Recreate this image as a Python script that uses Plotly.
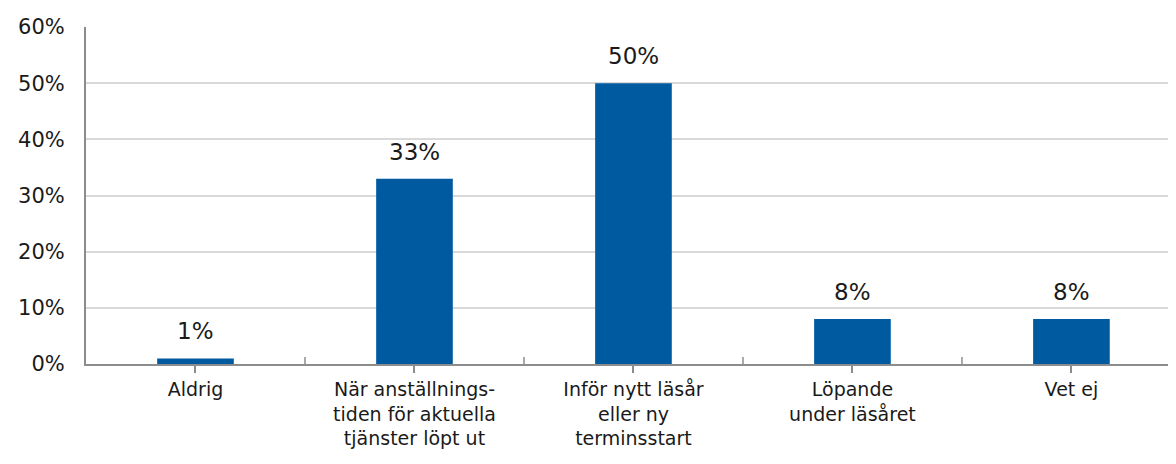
import plotly.graph_objects as go

categories = [
    "Aldrig",
    "När anställnings-<br>tiden för aktuella<br>tjänster löpt ut",
    "Inför nytt läsår<br>eller ny<br>terminsstart",
    "Löpande<br>under läsåret",
    "Vet ej",
]
values = [1, 33, 50, 8, 8]
labels = ["1%", "33%", "50%", "8%", "8%"]
y_ticks = [0, 10, 20, 30, 40, 50, 60]

x_pos = list(range(len(categories)))

fig = go.Figure()

fig.add_trace(
    go.Bar(
        x=x_pos,
        y=values,
        width=0.35,
        marker=dict(color="#005aa0", line=dict(width=0)),
        hoverinfo="skip",
    )
)

# dataetiketter ovanför staplarna
for x, v, lab in zip(x_pos, values, labels):
    fig.add_annotation(
        x=x, y=v, text=lab, showarrow=False,
        yanchor="bottom", yshift=12,
        font=dict(size=23, color="#1a1a1a"),
    )

# kategorimarkeringar går även en bit upp över axeln
for x in x_pos[:-1]:
    fig.add_shape(
        type="line", xref="x", yref="paper",
        x0=x + 0.5, x1=x + 0.5, y0=0, y1=7 / 337,
        line=dict(color="#8c8c8c", width=1.5),
    )

# sidan har 8px marginal i body, så marginalerna är förskjutna
fig.update_layout(
    width=1176,
    height=464,
    margin=dict(l=78, r=0, t=19, b=108, autoexpand=False),
    paper_bgcolor="white",
    plot_bgcolor="white",
    font=dict(family="DejaVu Sans", size=19, color="#1a1a1a"),
    showlegend=False,
    xaxis=dict(
        range=[-0.5, 4.514],
        tickvals=x_pos,
        ticktext=categories,
        tickson="boundaries",
        ticks="outside",
        ticklen=7,
        tickcolor="#8c8c8c",
        tickwidth=1.5,
        showline=True,
        linecolor="#8c8c8c",
        linewidth=2,
        showgrid=False,
        automargin=False,
        tickfont=dict(size=19),
    ),
    yaxis=dict(
        range=[0, 60],
        tickvals=y_ticks,
        ticktext=[f"{v}%" for v in y_ticks],
        showgrid=True,
        gridcolor="#d9d9d9",
        gridwidth=1.5,
        showline=True,
        linecolor="#8c8c8c",
        linewidth=2,
        ticks="outside",
        ticklen=0,
        ticklabelstandoff=15,
        automargin=False,
        tickfont=dict(size=21),
        zeroline=False,
    ),
)

fig.write_html("out.html")
